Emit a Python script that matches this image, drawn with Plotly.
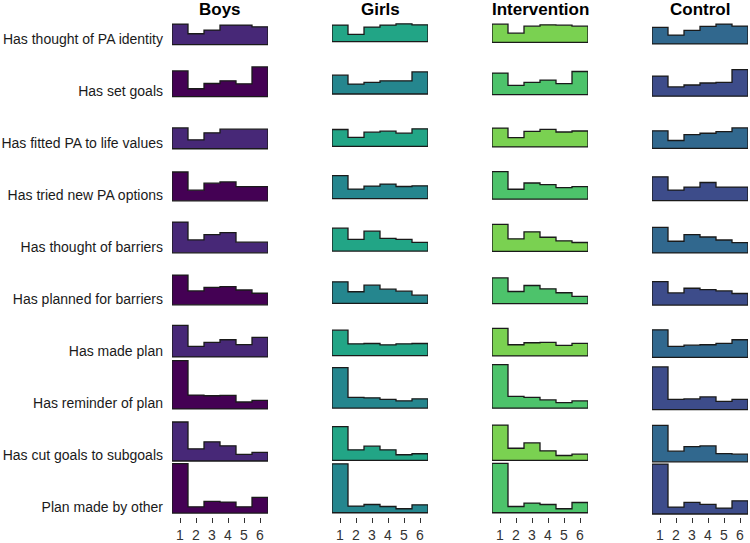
import plotly.graph_objects as go

# ---------------- data ----------------
items = [
    "Has thought of PA identity",
    "Has set goals",
    "Has fitted PA to life values",
    "Has tried new PA options",
    "Has thought of barriers",
    "Has planned for barriers",
    "Has made plan",
    "Has reminder of plan",
    "Has cut goals to subgoals",
    "Plan made by other",
]
groups = ["Boys", "Girls", "Intervention", "Control"]
responses = [1, 2, 3, 4, 5, 6]

# approx. percentage of answers in each response category (1..6)
boys = [
    [20.7, 11.0, 14.7, 19.7, 19.7, 18.0],
    [26.0, 8.0, 13.3, 16.0, 13.0, 30.0],
    [21.0, 9.0, 16.0, 19.7, 19.7, 19.7],
    [29.0, 10.7, 17.7, 19.0, 14.3, 14.3],
    [31.0, 13.0, 18.3, 20.3, 10.7, 10.7],
    [30.0, 14.0, 17.7, 18.3, 15.0, 11.7],
    [31.7, 10.7, 14.7, 17.3, 12.3, 19.7],
    [48.7, 14.0, 13.3, 13.7, 7.0, 8.7],
    [39.3, 12.3, 19.3, 15.3, 6.7, 8.7],
    [49.7, 6.3, 11.7, 11.0, 6.3, 15.7],
]
girls = [
    [16.7, 7.3, 14.7, 16.7, 18.0, 17.0],
    [19.0, 10.0, 11.7, 13.3, 13.3, 22.3],
    [17.0, 9.0, 14.3, 15.3, 13.3, 17.7],
    [23.3, 9.7, 12.7, 14.7, 12.3, 13.0],
    [23.0, 11.7, 20.0, 12.7, 11.7, 8.7],
    [21.7, 11.7, 18.3, 14.3, 12.3, 8.3],
    [25.7, 12.0, 12.3, 11.0, 12.0, 12.3],
    [40.7, 10.7, 10.3, 8.7, 7.3, 9.3],
    [34.0, 10.7, 14.3, 10.7, 5.7, 6.7],
    [49.3, 6.7, 8.3, 6.3, 4.0, 8.0],
]
intervention = [
    [18.3, 9.3, 16.3, 17.7, 17.3, 16.3],
    [21.7, 9.3, 12.3, 14.7, 11.0, 23.3],
    [19.0, 9.3, 15.7, 17.7, 15.0, 16.0],
    [27.7, 10.0, 16.3, 14.7, 11.7, 12.7],
    [27.3, 12.7, 19.7, 14.3, 10.7, 9.0],
    [26.0, 12.3, 18.3, 15.0, 11.0, 7.3],
    [27.7, 11.3, 13.3, 13.7, 10.7, 12.7],
    [44.0, 12.0, 11.0, 8.3, 5.7, 7.3],
    [35.7, 12.3, 17.7, 9.7, 5.0, 6.3],
    [49.7, 6.3, 9.7, 8.3, 4.0, 10.3],
]
control = [
    [16.7, 9.0, 13.7, 17.7, 20.0, 18.0],
    [20.3, 9.3, 11.3, 13.3, 14.0, 26.7],
    [17.7, 8.0, 14.0, 15.3, 17.0, 20.7],
    [24.0, 10.7, 13.7, 18.3, 13.7, 13.7],
    [25.7, 11.7, 18.3, 16.0, 13.0, 10.3],
    [23.7, 12.3, 17.0, 15.7, 14.3, 11.7],
    [27.7, 11.0, 12.3, 12.7, 14.0, 17.7],
    [43.0, 10.3, 10.7, 12.7, 8.3, 10.3],
    [36.7, 10.7, 15.3, 16.0, 8.3, 7.7],
    [50.3, 7.0, 11.7, 9.7, 6.0, 13.3],
]
series = [boys, girls, intervention, control]

# ---------------- styling / layout ----------------
W, H = 750, 543
MB = 22
PH = H - MB  # plot area height in px
colors = [
    ["#472877", "#440154"],
    ["#22A586", "#25868E"],
    ["#7AD151", "#4DC36B"],
    ["#31688E", "#3D4C8A"],
]
# pixel x extents of each panel and pixel baselines (top row, bottom row)
panel_x = [(172, 268), (332, 428), (492, 588), (652, 748)]
panel_base = [(45.0, 517.0), (42.0, 516.7), (42.7, 516.7), (44.3, 518.0)]

fig = go.Figure()
n = len(items)
edges = [r - 0.5 for r in responses] + [responses[-1] + 0.5]

for c, (grp, data) in enumerate(zip(groups, series)):
    top, bot = panel_base[c]
    unit = (bot - top) / (n - 1)  # px per row
    xa = "x" if c == 0 else f"x{c+1}"
    ya = "y" if c == 0 else f"y{c+1}"
    for i in range(n):
        base = (n - 1) - i
        vals = data[i]
        hs = [v / unit for v in vals]
        xs = [edges[0]] + edges[:-1] + [edges[-1], edges[-1], edges[0]]
        ys = [base] + [base + h for h in hs] + [base + hs[-1], base, base]
        fig.add_trace(go.Scatter(
            x=xs, y=ys, mode="lines", line=dict(shape="hv", color="#1a1a1a", width=1.3),
            fill="toself", fillcolor=colors[c][i % 2], xaxis=xa, yaxis=ya,
            showlegend=False, hoverinfo="skip",
        ))
    x0, x1 = panel_x[c]
    xkey = "xaxis" if c == 0 else f"xaxis{c+1}"
    ykey = "yaxis" if c == 0 else f"yaxis{c+1}"
    fig.layout[xkey] = dict(
        domain=[x0 / W, x1 / W], range=[edges[0], edges[-1]], anchor=ya,
        tickvals=responses, ticktext=[str(r) for r in responses],
        ticks="outside", ticklen=5, tickwidth=1, tickcolor="#333333",
        showgrid=False, zeroline=False, showline=False,
        tickfont=dict(family="Liberation Sans, Arial", size=14, color="#333333"),
        fixedrange=True,
    )
    yd = dict(
        domain=[0, 1], range=[(bot - PH) / unit, bot / unit], anchor=xa,
        showgrid=False, zeroline=False, showline=False, fixedrange=True,
    )
    if c == 0:
        yd.update(
            tickvals=[(n - 1) - i for i in range(n)], ticktext=items, ticks="",
            tickfont=dict(family="Liberation Sans, Arial", size=14, color="#1a1a1a"),
            ticklabelshift=-6, ticklabelstandoff=8,
        )
    else:
        yd.update(showticklabels=False, ticks="")
    fig.layout[ykey] = yd
    fig.add_annotation(
        text=f"<b>{grp}</b>", x=(x0 + x1) / 2 / W, y=(PH - 10) / PH,
        xref="paper", yref="paper", xanchor="center", yanchor="middle",
        showarrow=False, font=dict(family="Liberation Sans, Arial", size=17, color="#000000"),
    )

fig.update_layout(
    width=W, height=H, margin=dict(l=0, r=0, t=0, b=MB),
    paper_bgcolor="white", plot_bgcolor="white", showlegend=False,
)
fig.write_html(
    "out.html",
    config={"displayModeBar": False},
    post_script="document.body.style.margin='0';document.body.style.padding='0';window.scrollTo(0,0);",
)
